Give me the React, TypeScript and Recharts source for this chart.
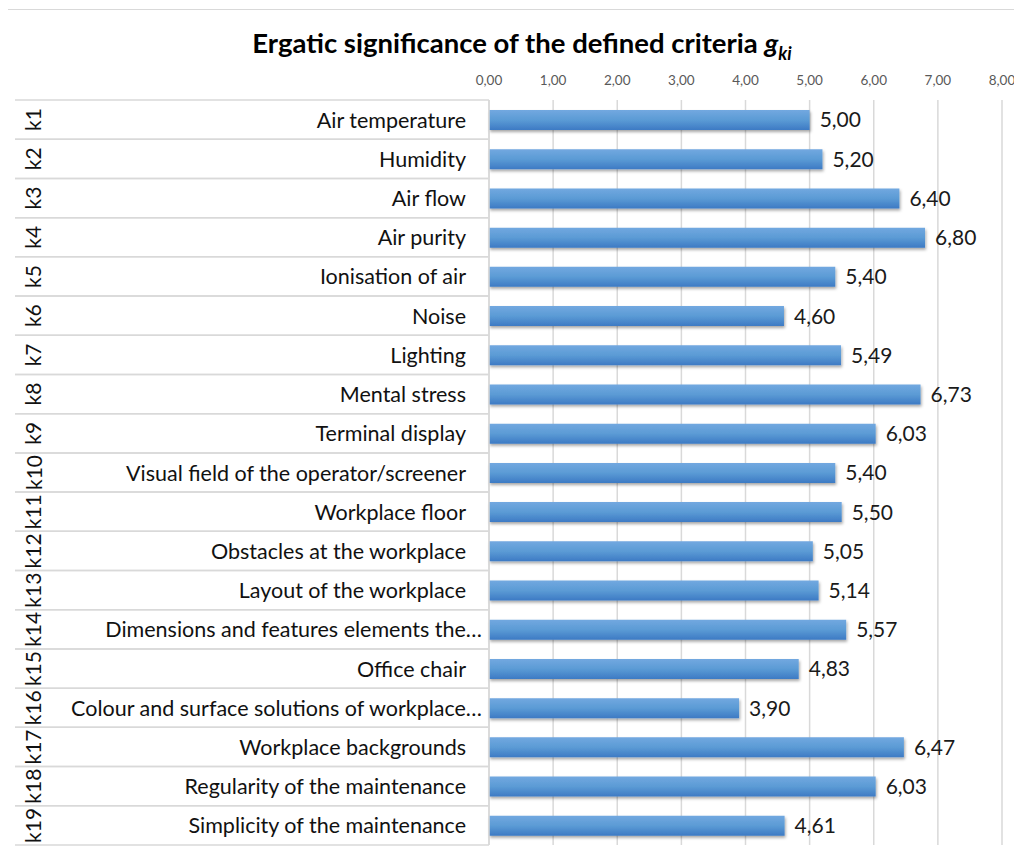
import React from 'react';
import {
  BarChart,
  Bar,
  XAxis,
  YAxis,
  CartesianGrid,
  LabelList,
} from 'recharts';

// criteria codes, names and their ergatic significance
const codes = [
  'k1', 'k2', 'k3', 'k4', 'k5', 'k6', 'k7', 'k8', 'k9', 'k10',
  'k11', 'k12', 'k13', 'k14', 'k15', 'k16', 'k17', 'k18', 'k19',
];

const names = [
  'Air temperature',
  'Humidity',
  'Air flow',
  'Air purity',
  'Ionisation of air',
  'Noise',
  'Lighting',
  'Mental stress',
  'Terminal display',
  'Visual field of the operator/screener',
  'Workplace floor',
  'Obstacles at the workplace',
  'Layout of the workplace',
  'Dimensions and features elements the…',
  'Office chair',
  'Colour and surface solutions of workplace…',
  'Workplace backgrounds',
  'Regularity of the maintenance',
  'Simplicity of the maintenance',
];

const values = [
  5.0, 5.2, 6.4, 6.8, 5.4, 4.6, 5.49, 6.73, 6.03, 5.4,
  5.5, 5.05, 5.14, 5.57, 4.83, 3.9, 6.47, 6.03, 4.61,
];

const xTicks = [0, 1, 2, 3, 4, 5, 6, 7, 8];

const chartData = names.map((name, i) => ({
  name,
  code: codes[i],
  value: values[i],
}));

const W = 1014;
const H = 851;
const X_AXIS_H = 30;
const PLOT_TOP = 92;
const MARGIN = { top: PLOT_TOP - X_AXIS_H, right: 20, bottom: 14, left: 0 };
const PLOT_LEFT = 481;
const BAND = (H - PLOT_TOP - MARGIN.bottom) / names.length;
const FONT = 'Lato, "Open Sans", sans-serif';
const GRID = '#d9d9d9';

const comma = (v: number) => Number(v).toFixed(2).replace('.', ',');

const CategoryTick = ({ y, payload, index }: any) => {
  const row = chartData[index] ?? chartData.find(d => d.name === payload.value);
  // truncated labels (ending in …) sit a bit further right, as Excel draws them
  const truncated = String(payload.value).endsWith('…');
  return (
    <g>
      <line x1={7} x2={PLOT_LEFT} y1={y - BAND / 2} y2={y - BAND / 2} stroke={GRID} strokeWidth={1.5} />
      <line x1={7} x2={PLOT_LEFT} y1={y + BAND / 2} y2={y + BAND / 2} stroke={GRID} strokeWidth={1.5} />
      <text
        x={truncated ? PLOT_LEFT - 7 : PLOT_LEFT - 23}
        y={y}
        textAnchor="end"
        dominantBaseline="central"
        fontSize={21.5}
        fontFamily={FONT}
        fill="#111"
      >
        {payload.value}
      </text>
      <text
        x={25}
        y={y}
        textAnchor="middle"
        dominantBaseline="central"
        fontSize={21}
        fontFamily={FONT}
        fill="#111"
        transform={`rotate(-90 25 ${y})`}
      >
        {row ? row.code : ''}
      </text>
    </g>
  );
};

export default function App() {
  return (
    <div style={{ position: 'relative', width: W, height: H }}>
      <div
        style={{
          position: 'absolute',
          left: -1,
          top: 1,
          width: W + 10,
          height: H,
          borderTop: `1.5px solid ${GRID}`,
          borderLeft: `1.5px solid ${GRID}`,
        }}
      />
      <div
        style={{
          position: 'absolute',
          left: 0,
          top: 19,
          width: 1028,
          textAlign: 'center',
          fontFamily: FONT,
          fontWeight: 700,
          fontSize: 27.5,
          color: '#000',
          lineHeight: '32px',
          whiteSpace: 'nowrap',
        }}
      >
        Ergatic significance of the defined criteria{' '}
        <i>g</i>
        <sub style={{ fontSize: 18, fontStyle: 'italic', lineHeight: 0 }}>ki</sub>
      </div>
      <BarChart
        width={W}
        height={H}
        data={chartData}
        layout="vertical"
        margin={MARGIN}
        barSize={20}
        style={{ position: 'absolute', left: 0, top: 0 }}
      >
        <defs>
          <linearGradient id="barFill" x1="0" y1="0" x2="0" y2="1">
            <stop offset="0%" stopColor="#72a8e0" />
            <stop offset="50%" stopColor="#5b9bd5" />
            <stop offset="100%" stopColor="#3d7ac4" />
          </linearGradient>
          <filter id="barShadow" x="-5%" y="-30%" width="110%" height="180%">
            <feDropShadow dx={1} dy={2} stdDeviation={1.5} floodColor="#000" floodOpacity={0.35} />
          </filter>
        </defs>
        <CartesianGrid horizontal={false} stroke={GRID} strokeWidth={1.5} />
        <XAxis
          type="number"
          orientation="top"
          height={X_AXIS_H}
          domain={[0, 8]}
          ticks={xTicks}
          tickFormatter={comma}
          axisLine={false}
          tickLine={false}
          tickMargin={9}
          tick={{ fill: '#595959', fontSize: 13.5, fontFamily: FONT }}
        />
        <YAxis
          type="category"
          dataKey="name"
          width={PLOT_LEFT}
          axisLine={{ stroke: GRID, strokeWidth: 1.5 }}
          tickLine={false}
          interval={0}
          tick={<CategoryTick />}
        />
        <Bar
          dataKey="value"
          fill="url(#barFill)"
          filter="url(#barShadow)"
          isAnimationActive={false}
        >
          <LabelList
            dataKey="value"
            position="right"
            offset={10}
            formatter={(v: any) => comma(v)}
            style={{ fontSize: 21, fontFamily: FONT, fill: '#1a1a1a' }}
          />
        </Bar>
      </BarChart>
    </div>
  );
}
